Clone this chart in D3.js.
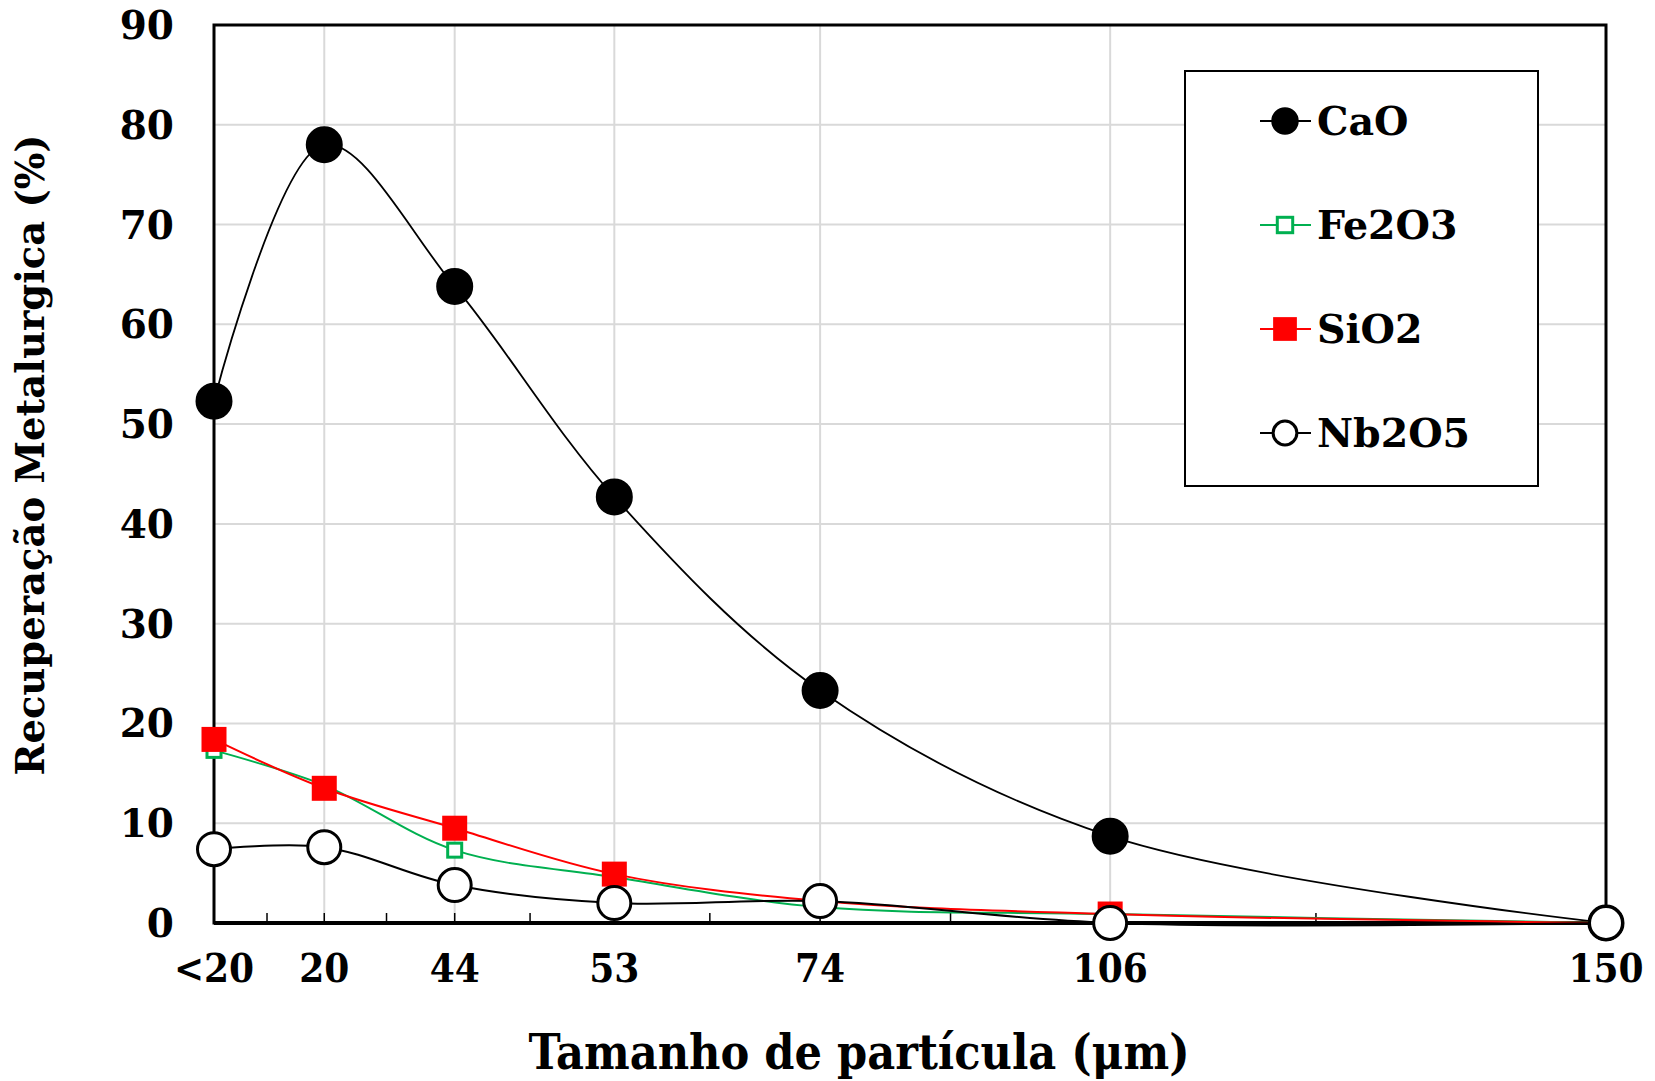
<!DOCTYPE html>
<html>
<head>
<meta charset="utf-8">
<script src="https://cdn.jsdelivr.net/npm/d3@7"></script>
<style>
  body { margin: 0; background: #fff; }
  text { font-family: "DejaVu Serif", serif; font-weight: bold; fill: #000; }
</style>
</head>
<body>
<div id="chart"></div>
<script>
// categorias do eixo x (tamanho de partícula)
const categories = ["<20", "20", "44", "53", "74", "106", "150"];
// valor no eixo logarítmico invertido de cada categoria
const axisValues = [14, 12, 10, 8, 6, 4, 2];
const minorTickValues = [13, 11, 9, 7, 5, 3];
const yTicks = [0, 10, 20, 30, 40, 50, 60, 70, 80, 90];

// recuperação metalúrgica (%)
const cao   = [52.3, 78.0, 63.8, 42.7, 23.3, 8.7, 0];
const fe2o3 = [17.3, 13.8, 7.3, 4.6, 1.6, 0.9, 0];
const sio2  = [18.4, 13.5, 9.5, 4.9, 2.2, 0.9, 0];
const nb2o5 = [7.4, 7.6, 3.8, 2.0, 2.2, 0, 0];

const seriesNames = ["CaO", "Fe2O3", "SiO2", "Nb2O5"];

function drawChart() {
  const W = 1655, H = 1081;
  const margin = {top: 25, right: 49, bottom: 158, left: 214};
  const width = W - margin.left - margin.right,
        height = H - margin.top - margin.bottom;

  const svg = d3.select("#chart").append("svg")
    .attr("width", W).attr("height", H)
    .style("background", "#fff");

  const g = svg.append("g")
    .attr("transform", `translate(${margin.left},${margin.top})`);

  const x = d3.scaleLog().domain([14, 2]).range([0, width]);
  const y = d3.scaleLinear().domain([0, 90]).range([height, 0]);

  // grade
  g.append("g").selectAll("line.h")
    .data(yTicks.slice(1, -1))
    .join("line")
      .attr("x1", 0).attr("x2", width)
      .attr("y1", d => y(d)).attr("y2", d => y(d))
      .attr("stroke", "#d9d9d9").attr("stroke-width", 2);
  g.append("g").selectAll("line.v")
    .data(axisValues.slice(1, -1))
    .join("line")
      .attr("x1", d => x(d)).attr("x2", d => x(d))
      .attr("y1", 0).attr("y2", height)
      .attr("stroke", "#d9d9d9").attr("stroke-width", 2);

  // moldura
  g.append("rect")
    .attr("x", 0).attr("y", 0).attr("width", width).attr("height", height)
    .attr("fill", "none").attr("stroke", "#000").attr("stroke-width", 3);

  // eixo x: marcas internas
  g.append("g").selectAll("line")
    .data(axisValues.concat(minorTickValues))
    .join("line")
      .attr("x1", d => x(d)).attr("x2", d => x(d))
      .attr("y1", height).attr("y2", height - 10)
      .attr("stroke", "#000").attr("stroke-width", 1.5);
  g.append("line")
    .attr("x1", 0).attr("x2", width)
    .attr("y1", height).attr("y2", height)
    .attr("stroke", "#000").attr("stroke-width", 4);

  // rótulos do eixo x
  g.append("g").selectAll("text")
    .data(categories)
    .join("text")
      .attr("x", (d, i) => x(axisValues[i]))
      .attr("y", height + 59)
      .attr("text-anchor", "middle")
      .style("font-size", "40px")
      .style("font-stretch", "condensed")
      .text(d => d);

  // rótulos do eixo y
  g.append("g").selectAll("text")
    .data(yTicks)
    .join("text")
      .attr("x", -40)
      .attr("y", d => y(d))
      .attr("dy", "0.36em")
      .attr("text-anchor", "end")
      .style("font-size", "39px")
      .text(d => d);

  // títulos
  svg.append("text")
    .attr("x", 859).attr("y", 1069)
    .attr("text-anchor", "middle")
    .style("font-size", "48px")
    .style("font-stretch", "condensed")
    .text("Tamanho de partícula (μm)");
  svg.append("text")
    .attr("transform", "translate(44,455) rotate(-90)")
    .attr("text-anchor", "middle")
    .style("font-size", "38.5px")
    .text("Recuperação Metalurgica (%)");

  const styles = [
    {values: cao,   color: "#000",    shape: "circle", fill: "#000",  r: 17, lw: 1.8},
    {values: fe2o3, color: "#00b050", shape: "square", fill: "#fff",  s: 14, lw: 2},
    {values: sio2,  color: "#ff0000", shape: "square", fill: "#ff0000", s: 25, lw: 2},
    {values: nb2o5, color: "#000",    shape: "circle", fill: "#fff",  r: 16.5, lw: 2}
  ];

  const line = d3.line()
    .x((d, i) => x(axisValues[i]))
    .y(d => y(d))
    .curve(d3.curveCatmullRom.alpha(0.5));

  function marker(sel, st, scale) {
    if (st.shape === "circle") {
      sel.append("circle")
        .attr("r", st.r * scale)
        .attr("fill", st.fill)
        .attr("stroke", "#000").attr("stroke-width", 3);
    } else {
      const s = st.s * scale;
      sel.append("rect")
        .attr("x", -s / 2).attr("y", -s / 2)
        .attr("width", s).attr("height", s)
        .attr("fill", st.fill)
        .attr("stroke", st.color)
        .attr("stroke-width", st.fill === "#fff" ? 3 : 0);
    }
  }

  styles.forEach(st => {
    g.append("path")
      .datum(st.values)
      .attr("d", line)
      .attr("fill", "none")
      .attr("stroke", st.color)
      .attr("stroke-width", st.lw);
    st.values.forEach((v, i) => {
      const m = g.append("g")
        .attr("transform", `translate(${x(axisValues[i])},${y(v)})`);
      marker(m, st, 1);
    });
  });

  // legenda
  const legend = svg.append("g").attr("transform", "translate(1185,71)");
  legend.append("rect")
    .attr("width", 353).attr("height", 415)
    .attr("fill", "#fff").attr("stroke", "#000").attr("stroke-width", 2);
  seriesNames.forEach((name, i) => {
    const st = styles[i];
    const row = legend.append("g").attr("transform", `translate(0,${50 + i * 104})`);
    row.append("line")
      .attr("x1", 75).attr("x2", 126)
      .attr("stroke", st.color).attr("stroke-width", 2);
    const m = row.append("g").attr("transform", "translate(100,0)");
    marker(m, st, st.shape === "circle" ? 0.72 : (st.fill === "#fff" ? 1.1 : 0.95));
    row.append("text")
      .attr("x", 132).attr("dy", "0.36em")
      .style("font-size", "39.5px")
      .text(name);
  });
}

drawChart();
</script>
</body>
</html>
